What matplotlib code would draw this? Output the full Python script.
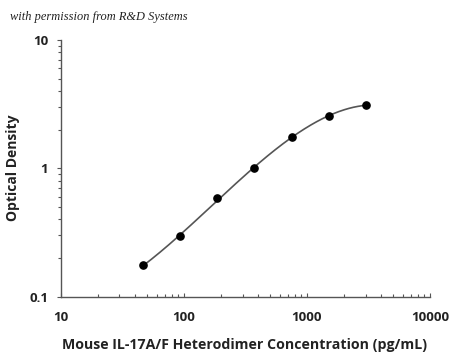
import numpy as np
import matplotlib
matplotlib.use("Agg")
import matplotlib.pyplot as plt

conc = [46.875, 93.75, 187.5, 375, 750, 1500, 3000]
od = [0.176, 0.297, 0.584, 1.0, 1.75, 2.57, 3.10]
xticks = [10, 100, 1000, 10000]
xticklabels = ["10", "100", "1000", "10000"]
yticks = [0.1, 1, 10]
yticklabels = ["0.1", "1", "10"]

fig = plt.figure(figsize=(4.5, 3.56), dpi=100)
ax = fig.add_axes([0.135, 0.1666, 0.8206, 0.721])

# smooth curve through points in log-log space (cubic fit of log data)
lx = np.log10(conc)
ly = np.log10(od)
coef = np.polyfit(lx, ly, 3)
xs = np.linspace(lx[0], lx[-1], 200)
ax.plot(10**xs, 10**np.polyval(coef, xs), color="#555555", lw=1.2, zorder=2)
ax.plot(conc, od, "o", color="black", ms=5.2, zorder=3)

ax.set_xscale("log")
ax.set_yscale("log")
ax.set_xlim(10, 10000)
ax.set_ylim(0.1, 10)
ax.set_xticks(xticks)
ax.set_xticklabels(xticklabels)
ax.set_yticks(yticks)
ax.set_yticklabels(yticklabels)
for s in ["top", "right"]:
    ax.spines[s].set_visible(False)
for s in ["left", "bottom"]:
    ax.spines[s].set_color("#555555")
    ax.spines[s].set_linewidth(1.0)
ax.tick_params(axis="x", which="both", direction="in", color="#555555", length=3, width=0.8, pad=10)
ax.tick_params(axis="y", which="both", direction="out", color="#555555", length=3, width=0.8, pad=6)
ax.tick_params(which="minor", length=2)

fp = dict(family="Open Sans", weight="bold")
for lab in ax.get_xticklabels() + ax.get_yticklabels():
    lab.set_fontfamily("Open Sans")
    lab.set_fontweight("bold")
    lab.set_fontsize(9.5)
    lab.set_color("#222222")

fig.text(0.544, 0.031, "Mouse IL-17A/F Heterodimer Concentration (pg/mL)", fontsize=10.2,
         color="#222222", ha="center", va="center", **fp)
fig.text(0.029, 0.528, "Optical Density", fontsize=10, color="#222222", rotation=90,
         ha="center", va="center", **fp)

fig.text(0.022, 0.952, "with permission from R&D Systems", fontsize=8.9, style="italic",
         family="Liberation Serif", color="#222222", va="center")

fig.savefig("out.png", dpi=100)
